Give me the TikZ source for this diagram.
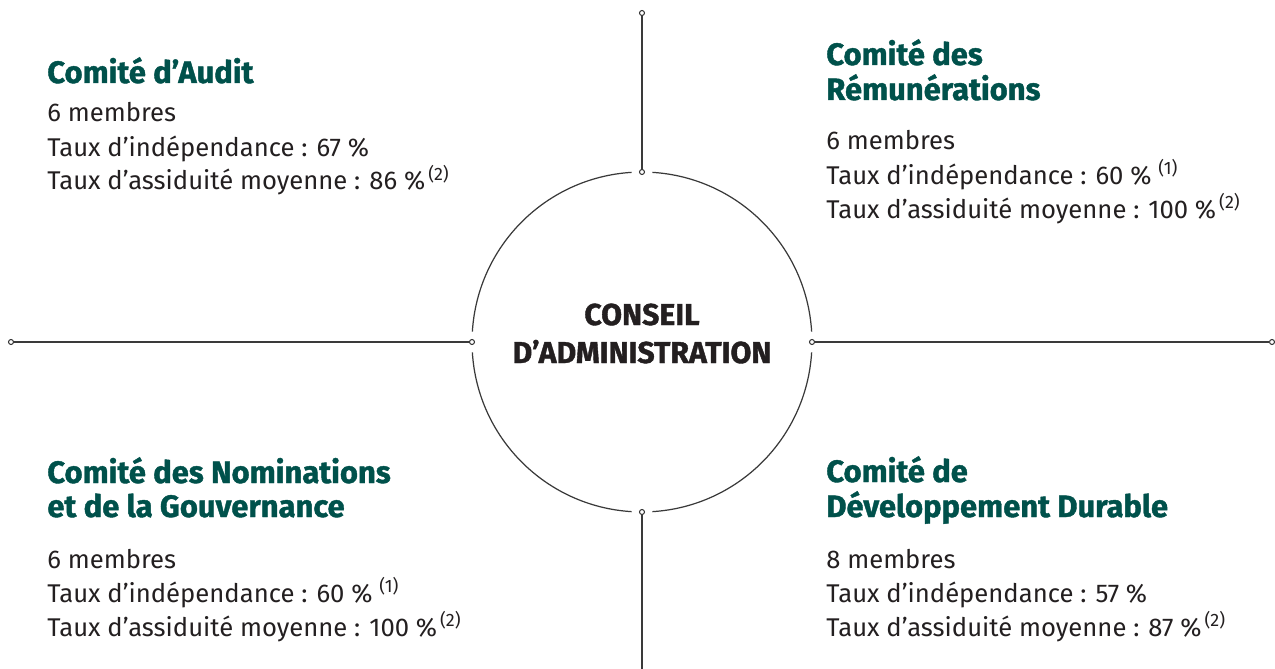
\documentclass[tikz,border=0pt]{standalone}
\usepackage{fontspec}
\setmainfont{Fira Sans}[BoldFeatures={FakeBold=1.3}]
\usepackage{tikz}
\definecolor{vert}{HTML}{00514B}
\definecolor{encre}{HTML}{231F20}
\definecolor{trait}{HTML}{3A3A3A}

\begin{document}
\begin{tikzpicture}[x=0.02cm,y=0.02cm,
    titre/.style={anchor=base west,inner sep=0pt,text=vert,font=\fontsize{17.6}{20}\selectfont\bfseries},
    texte/.style={anchor=base west,inner sep=0pt,text=encre,font=\fontsize{14.6}{19}\selectfont},
    centre/.style={anchor=base,inner sep=0pt,text=encre,font=\fontsize{17.2}{21}\selectfont\bfseries},
    rond/.style={circle,draw=trait,fill=white,line width=0.6pt,inner sep=0pt,minimum size=0.1cm},
    ligne/.style={trait,line width=0.7pt}]
            \useasboundingbox (0,0) rectangle (1275,-669);

            % cercle du conseil
            \coordinate (c) at (642,-342);
            \foreach \a in {0,90,180,270}
                \draw[ligne] ([shift={(\a+3.5:3.4cm)}]c) arc[start angle=\a+3.5,end angle=\a+86.5,radius=3.4cm];
            \node[centre] (conseil) at (642,-325){CONSEIL};
            \node[centre] (admin) at (642,-363){D’ADMINISTRATION};

            % axes
            \node[rond] (jh) at (642,-172){};
            \node[rond] (jb) at (642,-512){};
            \node[rond] (jg) at (472,-342){};
            \node[rond] (jd) at (812,-342){};
            \node[rond] (h) at (642,-13){};
            \node[rond] (g) at (11,-342){};
            \node[rond] (d) at (1272,-342){};
            \coordinate (b) at (642,-669);
            \draw[ligne] (h) -- (jh);
            \draw[ligne] (jb) -- (b);
            \draw[ligne] (g) -- (jg);
            \draw[ligne] (jd) -- (d);

            % Audit
            \node[titre] (audit) at (47,-83){Comité d’Audit};
            \node[texte] (auditA) at (47,-122){6 membres};
            \node[texte] (auditB) at (47,-156){Taux d’indépendance : 67 \%};
            \node[texte] (auditC) at (47,-190){Taux d’assiduité moyenne : 86 \%\textsuperscript{\,(2)}};

            % Remunerations
            \node[titre] (remu) at (826,-65){Comité des};
            \node[titre] (remuB) at (826,-100){Rémunérations};
            \node[texte] (remuC) at (826,-150){6 membres};
            \node[texte] (remuD) at (826,-184){Taux d’indépendance : 60 \% \textsuperscript{(1)}};
            \node[texte] (remuE) at (826,-218){Taux d’assiduité moyenne : 100 \%\textsuperscript{\,(2)}};

            % Nominations
            \node[titre] (nomi) at (47,-483){Comité des Nominations};
            \node[titre] (nomiB) at (47,-517){et de la Gouvernance};
            \node[texte] (nomiC) at (47,-568){6 membres};
            \node[texte] (nomiD) at (47,-602){Taux d’indépendance : 60 \% \textsuperscript{(1)}};
            \node[texte] (nomiE) at (47,-636){Taux d’assiduité moyenne : 100 \%\textsuperscript{\,(2)}};

            % Developpement durable
            \node[titre] (dev) at (826,-482){Comité de};
            \node[titre] (devB) at (826,-517){Développement Durable};
            \node[texte] (devC) at (826,-568){8 membres};
            \node[texte] (devD) at (826,-602){Taux d’indépendance : 57 \%};
            \node[texte] (devE) at (826,-636){Taux d’assiduité moyenne : 87 \%\textsuperscript{\,(2)}};
        \end{tikzpicture}
\end{document}
